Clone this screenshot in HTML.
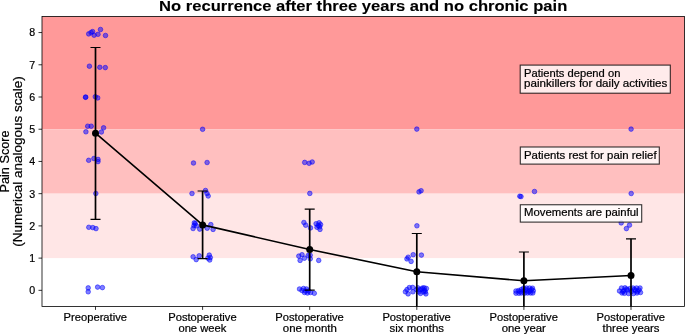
<!DOCTYPE html><html><head><meta charset="utf-8"><style>html,body{margin:0;padding:0;background:#fff;overflow:hidden;}svg{display:block;will-change:transform;}text{font-family:"Liberation Sans",sans-serif;fill:#000;}</style></head><body>
<svg width="685" height="334" viewBox="0 0 685 334">
<rect x="0" y="0" width="685" height="334" fill="#fff"/>
<rect x="42.0" y="16.4" width="642.40" height="112.83" fill="rgb(255,153,153)"/>
<rect x="42.0" y="129.23" width="642.40" height="64.44" fill="rgb(255,191,191)"/>
<rect x="42.0" y="193.67" width="642.40" height="64.44" fill="rgb(255,230,230)"/>
<g fill="rgb(0,0,255)" fill-opacity="0.5" stroke="rgb(0,0,255)" stroke-opacity="0.5" stroke-width="1.0">
<circle cx="88.7" cy="33.9" r="2.3"/>
<circle cx="91.1" cy="32.5" r="2.3"/>
<circle cx="92.6" cy="31.6" r="2.3"/>
<circle cx="94.1" cy="35.2" r="2.3"/>
<circle cx="98.0" cy="34.3" r="2.3"/>
<circle cx="100.5" cy="29.5" r="2.3"/>
<circle cx="105.5" cy="35.5" r="2.3"/>
<circle cx="89.4" cy="66.2" r="2.3"/>
<circle cx="99.8" cy="67.3" r="2.3"/>
<circle cx="105.3" cy="67.6" r="2.3"/>
<circle cx="85.5" cy="97.3" r="2.3"/>
<circle cx="85.7" cy="97.1" r="2.3"/>
<circle cx="95.3" cy="96.7" r="2.3"/>
<circle cx="97.7" cy="97.9" r="2.3"/>
<circle cx="87.7" cy="126.2" r="2.3"/>
<circle cx="91.2" cy="126.2" r="2.3"/>
<circle cx="85.9" cy="131.8" r="2.3"/>
<circle cx="103.6" cy="127.8" r="2.3"/>
<circle cx="101.4" cy="132.0" r="2.3"/>
<circle cx="88.7" cy="160.3" r="2.3"/>
<circle cx="93.9" cy="158.5" r="2.3"/>
<circle cx="98.0" cy="159.4" r="2.3"/>
<circle cx="98.0" cy="161.6" r="2.3"/>
<circle cx="95.8" cy="193.5" r="2.3"/>
<circle cx="88.8" cy="227.3" r="2.3"/>
<circle cx="92.8" cy="227.6" r="2.3"/>
<circle cx="96.0" cy="228.6" r="2.3"/>
<circle cx="88.2" cy="287.9" r="2.3"/>
<circle cx="88.2" cy="291.8" r="2.3"/>
<circle cx="97.6" cy="287.1" r="2.3"/>
<circle cx="102.4" cy="287.6" r="2.3"/>
<circle cx="202.6" cy="129.3" r="2.3"/>
<circle cx="193.5" cy="163.0" r="2.3"/>
<circle cx="207.1" cy="162.5" r="2.3"/>
<circle cx="192.0" cy="193.5" r="2.3"/>
<circle cx="205.5" cy="190.5" r="2.3"/>
<circle cx="207.0" cy="193.5" r="2.3"/>
<circle cx="208.2" cy="196.0" r="2.3"/>
<circle cx="194.3" cy="222.8" r="2.3"/>
<circle cx="193.1" cy="228.5" r="2.3"/>
<circle cx="196.4" cy="225.8" r="2.3"/>
<circle cx="194.0" cy="225.6" r="2.3"/>
<circle cx="195.2" cy="223.6" r="2.3"/>
<circle cx="199.7" cy="229.1" r="2.3"/>
<circle cx="207.2" cy="228.2" r="2.3"/>
<circle cx="210.8" cy="224.6" r="2.3"/>
<circle cx="213.1" cy="229.4" r="2.3"/>
<circle cx="193.1" cy="256.8" r="2.3"/>
<circle cx="196.2" cy="259.6" r="2.3"/>
<circle cx="199.2" cy="255.8" r="2.3"/>
<circle cx="209.3" cy="255.1" r="2.3"/>
<circle cx="209.7" cy="260.0" r="2.3"/>
<circle cx="207.8" cy="258.1" r="2.3"/>
<circle cx="210.3" cy="257.6" r="2.3"/>
<circle cx="304.7" cy="162.4" r="2.3"/>
<circle cx="309.1" cy="163.3" r="2.3"/>
<circle cx="312.2" cy="162.0" r="2.3"/>
<circle cx="309.8" cy="193.4" r="2.3"/>
<circle cx="303.9" cy="222.5" r="2.3"/>
<circle cx="305.7" cy="225.2" r="2.3"/>
<circle cx="310.5" cy="227.9" r="2.3"/>
<circle cx="316.1" cy="223.7" r="2.3"/>
<circle cx="319.1" cy="222.8" r="2.3"/>
<circle cx="320.6" cy="224.6" r="2.3"/>
<circle cx="317.0" cy="227.3" r="2.3"/>
<circle cx="320.0" cy="229.4" r="2.3"/>
<circle cx="318.2" cy="225.4" r="2.3"/>
<circle cx="319.6" cy="226.8" r="2.3"/>
<circle cx="298.8" cy="256.1" r="2.3"/>
<circle cx="302.0" cy="254.7" r="2.3"/>
<circle cx="300.1" cy="260.4" r="2.3"/>
<circle cx="304.4" cy="258.2" r="2.3"/>
<circle cx="308.2" cy="255.5" r="2.3"/>
<circle cx="310.2" cy="255.2" r="2.3"/>
<circle cx="310.3" cy="258.8" r="2.3"/>
<circle cx="318.7" cy="260.4" r="2.3"/>
<circle cx="299.5" cy="289.0" r="2.3"/>
<circle cx="302.0" cy="290.5" r="2.3"/>
<circle cx="303.5" cy="288.5" r="2.3"/>
<circle cx="305.5" cy="291.0" r="2.3"/>
<circle cx="306.5" cy="289.0" r="2.3"/>
<circle cx="304.5" cy="292.5" r="2.3"/>
<circle cx="307.5" cy="293.0" r="2.3"/>
<circle cx="308.5" cy="291.0" r="2.3"/>
<circle cx="310.5" cy="292.5" r="2.3"/>
<circle cx="314.3" cy="293.3" r="2.3"/>
<circle cx="416.8" cy="129.1" r="2.3"/>
<circle cx="419.0" cy="191.9" r="2.3"/>
<circle cx="421.1" cy="190.7" r="2.3"/>
<circle cx="416.9" cy="225.8" r="2.3"/>
<circle cx="406.9" cy="258.9" r="2.3"/>
<circle cx="408.2" cy="257.2" r="2.3"/>
<circle cx="411.1" cy="261.4" r="2.3"/>
<circle cx="413.2" cy="254.7" r="2.3"/>
<circle cx="421.4" cy="255.1" r="2.3"/>
<circle cx="405.4" cy="291.8" r="2.3"/>
<circle cx="408.1" cy="293.9" r="2.3"/>
<circle cx="409.3" cy="287.6" r="2.3"/>
<circle cx="407.0" cy="289.6" r="2.3"/>
<circle cx="412.6" cy="287.4" r="2.3"/>
<circle cx="412.9" cy="291.8" r="2.3"/>
<circle cx="416.7" cy="289.6" r="2.3"/>
<circle cx="417.8" cy="287.8" r="2.3"/>
<circle cx="418.9" cy="291.8" r="2.3"/>
<circle cx="420.5" cy="293.4" r="2.3"/>
<circle cx="421.6" cy="289.1" r="2.3"/>
<circle cx="424.2" cy="287.8" r="2.3"/>
<circle cx="425.3" cy="291.8" r="2.3"/>
<circle cx="425.9" cy="293.9" r="2.3"/>
<circle cx="426.4" cy="288.5" r="2.3"/>
<circle cx="422.5" cy="288.0" r="2.3"/>
<circle cx="423.5" cy="292.0" r="2.3"/>
<circle cx="419.8" cy="289.8" r="2.3"/>
<circle cx="424.5" cy="290.2" r="2.3"/>
<circle cx="519.8" cy="196.2" r="2.3"/>
<circle cx="521.0" cy="196.6" r="2.3"/>
<circle cx="534.5" cy="191.5" r="2.3"/>
<circle cx="515.9" cy="291.0" r="2.3"/>
<circle cx="516.0" cy="293.2" r="2.3"/>
<circle cx="518.5" cy="290.6" r="2.3"/>
<circle cx="519.0" cy="293.3" r="2.3"/>
<circle cx="521.2" cy="289.6" r="2.3"/>
<circle cx="521.5" cy="293.0" r="2.3"/>
<circle cx="523.5" cy="288.2" r="2.3"/>
<circle cx="524.0" cy="291.0" r="2.3"/>
<circle cx="524.5" cy="293.2" r="2.3"/>
<circle cx="526.5" cy="288.0" r="2.3"/>
<circle cx="527.0" cy="290.8" r="2.3"/>
<circle cx="527.5" cy="293.0" r="2.3"/>
<circle cx="529.5" cy="288.0" r="2.3"/>
<circle cx="530.0" cy="290.5" r="2.3"/>
<circle cx="530.5" cy="293.0" r="2.3"/>
<circle cx="532.5" cy="288.2" r="2.3"/>
<circle cx="533.3" cy="290.8" r="2.3"/>
<circle cx="532.8" cy="293.0" r="2.3"/>
<circle cx="525.5" cy="289.5" r="2.3"/>
<circle cx="529.0" cy="291.8" r="2.3"/>
<circle cx="520.0" cy="291.5" r="2.3"/>
<circle cx="531.5" cy="289.5" r="2.3"/>
<circle cx="631.1" cy="129.1" r="2.3"/>
<circle cx="631.2" cy="193.5" r="2.3"/>
<circle cx="621.2" cy="222.9" r="2.3"/>
<circle cx="629.5" cy="225.1" r="2.3"/>
<circle cx="626.4" cy="228.6" r="2.3"/>
<circle cx="619.5" cy="291.0" r="2.3"/>
<circle cx="621.5" cy="288.0" r="2.3"/>
<circle cx="622.0" cy="293.0" r="2.3"/>
<circle cx="624.0" cy="290.5" r="2.3"/>
<circle cx="625.0" cy="287.8" r="2.3"/>
<circle cx="624.5" cy="293.3" r="2.3"/>
<circle cx="627.5" cy="290.0" r="2.3"/>
<circle cx="628.5" cy="293.5" r="2.3"/>
<circle cx="630.0" cy="288.5" r="2.3"/>
<circle cx="631.5" cy="291.5" r="2.3"/>
<circle cx="633.0" cy="288.0" r="2.3"/>
<circle cx="633.5" cy="293.5" r="2.3"/>
<circle cx="635.5" cy="290.5" r="2.3"/>
<circle cx="636.5" cy="288.0" r="2.3"/>
<circle cx="637.0" cy="293.0" r="2.3"/>
<circle cx="639.0" cy="290.0" r="2.3"/>
<circle cx="640.0" cy="288.0" r="2.3"/>
<circle cx="640.5" cy="292.5" r="2.3"/>
<circle cx="623.0" cy="291.5" r="2.3"/>
<circle cx="634.5" cy="289.5" r="2.3"/>
<circle cx="637.5" cy="291.5" r="2.3"/>
<circle cx="626.5" cy="289.0" r="2.3"/>
</g>
<defs><clipPath id="ax"><rect x="42.0" y="16.40" width="642.40" height="290.00"/></clipPath></defs>
<g clip-path="url(#ax)" stroke="#000" stroke-width="1.7" fill="none">
<line x1="95.50" y1="47.5" x2="95.50" y2="219.30"/>
<line x1="90.50" y1="47.5" x2="100.50" y2="47.5" stroke-width="1.2"/>
<line x1="90.50" y1="219.30" x2="100.50" y2="219.30" stroke-width="1.2"/>
<line x1="202.60" y1="191.0" x2="202.60" y2="258.70"/>
<line x1="197.60" y1="191.0" x2="207.60" y2="191.0" stroke-width="1.2"/>
<line x1="197.60" y1="258.70" x2="207.60" y2="258.70" stroke-width="1.2"/>
<line x1="309.70" y1="209.1" x2="309.70" y2="290.20"/>
<line x1="304.70" y1="209.1" x2="314.70" y2="209.1" stroke-width="1.2"/>
<line x1="304.70" y1="290.20" x2="314.70" y2="290.20" stroke-width="1.2"/>
<line x1="416.80" y1="233.5" x2="416.80" y2="309.90"/>
<line x1="411.80" y1="233.5" x2="421.80" y2="233.5" stroke-width="1.2"/>
<line x1="411.80" y1="309.90" x2="421.80" y2="309.90" stroke-width="1.2"/>
<line x1="523.90" y1="252.0" x2="523.90" y2="309.60"/>
<line x1="518.90" y1="252.0" x2="528.90" y2="252.0" stroke-width="1.2"/>
<line x1="518.90" y1="309.60" x2="528.90" y2="309.60" stroke-width="1.2"/>
<line x1="631.00" y1="238.8" x2="631.00" y2="312.20"/>
<line x1="626.00" y1="238.8" x2="636.00" y2="238.8" stroke-width="1.2"/>
<line x1="626.00" y1="312.20" x2="636.00" y2="312.20" stroke-width="1.2"/>
<polyline points="95.50,133.2 202.60,224.9 309.70,249.5 416.80,271.7 523.90,280.8 631.00,275.5" stroke-width="1.6" stroke-linejoin="round"/>
</g>
<circle cx="95.50" cy="133.2" r="3.5" fill="#000"/>
<circle cx="202.60" cy="224.9" r="3.5" fill="#000"/>
<circle cx="309.70" cy="249.5" r="3.5" fill="#000"/>
<circle cx="416.80" cy="271.7" r="3.5" fill="#000"/>
<circle cx="523.90" cy="280.8" r="3.5" fill="#000"/>
<circle cx="631.00" cy="275.5" r="3.5" fill="#000"/>
<rect x="520.2" y="65.1" width="150.10" height="28.10" fill="#fff" fill-opacity="0.8" stroke="#000" stroke-opacity="0.8" stroke-width="1.1"/>
<rect x="520.3" y="147.0" width="139.00" height="17.10" fill="#fff" fill-opacity="0.8" stroke="#000" stroke-opacity="0.8" stroke-width="1.1"/>
<rect x="520.3" y="204.75" width="121.40" height="17.35" fill="#fff" fill-opacity="0.8" stroke="#000" stroke-opacity="0.8" stroke-width="1.1"/>
<text x="524.01" y="76.50" font-size="10.2" font-weight="normal" textLength="96.36" lengthAdjust="spacingAndGlyphs" stroke="#000" stroke-width="0.2">Patients depend on</text>
<text x="524.05" y="87.20" font-size="10.2" font-weight="normal" textLength="143.24" lengthAdjust="spacingAndGlyphs" stroke="#000" stroke-width="0.2">painkillers for daily activities</text>
<text x="523.99" y="158.60" font-size="10.2" font-weight="normal" textLength="132.58" lengthAdjust="spacingAndGlyphs" stroke="#000" stroke-width="0.2">Patients rest for pain relief</text>
<text x="523.99" y="216.40" font-size="10.2" font-weight="normal" textLength="114.66" lengthAdjust="spacingAndGlyphs" stroke="#000" stroke-width="0.2">Movements are painful</text>
<rect x="42.0" y="16.40" width="642.40" height="290.00" fill="none" stroke="#000" stroke-width="0.8"/>
<line x1="38.5" y1="290.34" x2="42.0" y2="290.34" stroke="#000" stroke-width="0.8"/>
<text x="29.16" y="294.24" font-size="10" stroke="#000" stroke-width="0.2" textLength="5.91" lengthAdjust="spacingAndGlyphs">0</text>
<line x1="38.5" y1="258.12" x2="42.0" y2="258.12" stroke="#000" stroke-width="0.8"/>
<text x="29.16" y="262.02" font-size="10" stroke="#000" stroke-width="0.2" textLength="5.91" lengthAdjust="spacingAndGlyphs">1</text>
<line x1="38.5" y1="225.90" x2="42.0" y2="225.90" stroke="#000" stroke-width="0.8"/>
<text x="29.16" y="229.80" font-size="10" stroke="#000" stroke-width="0.2" textLength="5.91" lengthAdjust="spacingAndGlyphs">2</text>
<line x1="38.5" y1="193.67" x2="42.0" y2="193.67" stroke="#000" stroke-width="0.8"/>
<text x="29.16" y="197.57" font-size="10" stroke="#000" stroke-width="0.2" textLength="5.91" lengthAdjust="spacingAndGlyphs">3</text>
<line x1="38.5" y1="161.45" x2="42.0" y2="161.45" stroke="#000" stroke-width="0.8"/>
<text x="29.16" y="165.35" font-size="10" stroke="#000" stroke-width="0.2" textLength="5.91" lengthAdjust="spacingAndGlyphs">4</text>
<line x1="38.5" y1="129.23" x2="42.0" y2="129.23" stroke="#000" stroke-width="0.8"/>
<text x="29.16" y="133.13" font-size="10" stroke="#000" stroke-width="0.2" textLength="5.91" lengthAdjust="spacingAndGlyphs">5</text>
<line x1="38.5" y1="97.01" x2="42.0" y2="97.01" stroke="#000" stroke-width="0.8"/>
<text x="29.16" y="100.91" font-size="10" stroke="#000" stroke-width="0.2" textLength="5.91" lengthAdjust="spacingAndGlyphs">6</text>
<line x1="38.5" y1="64.79" x2="42.0" y2="64.79" stroke="#000" stroke-width="0.8"/>
<text x="29.16" y="68.69" font-size="10" stroke="#000" stroke-width="0.2" textLength="5.91" lengthAdjust="spacingAndGlyphs">7</text>
<line x1="38.5" y1="32.56" x2="42.0" y2="32.56" stroke="#000" stroke-width="0.8"/>
<text x="29.16" y="36.46" font-size="10" stroke="#000" stroke-width="0.2" textLength="5.91" lengthAdjust="spacingAndGlyphs">8</text>
<line x1="95.50" y1="306.40" x2="95.50" y2="309.90" stroke="#000" stroke-width="0.8"/>
<text x="63.63" y="320.70" font-size="10.2" font-weight="normal" textLength="63.35" lengthAdjust="spacingAndGlyphs" stroke="#000" stroke-width="0.2">Preoperative</text>
<line x1="202.60" y1="306.40" x2="202.60" y2="309.90" stroke="#000" stroke-width="0.8"/>
<text x="168.21" y="320.70" font-size="10.2" font-weight="normal" textLength="68.40" lengthAdjust="spacingAndGlyphs" stroke="#000" stroke-width="0.2">Postoperative</text>
<text x="178.43" y="331.70" font-size="10.2" font-weight="normal" textLength="47.91" lengthAdjust="spacingAndGlyphs" stroke="#000" stroke-width="0.2">one week</text>
<line x1="309.70" y1="306.40" x2="309.70" y2="309.90" stroke="#000" stroke-width="0.8"/>
<text x="275.31" y="320.70" font-size="10.2" font-weight="normal" textLength="68.40" lengthAdjust="spacingAndGlyphs" stroke="#000" stroke-width="0.2">Postoperative</text>
<text x="282.82" y="331.70" font-size="10.2" font-weight="normal" textLength="54.06" lengthAdjust="spacingAndGlyphs" stroke="#000" stroke-width="0.2">one month</text>
<line x1="416.80" y1="306.40" x2="416.80" y2="309.90" stroke="#000" stroke-width="0.8"/>
<text x="382.41" y="320.70" font-size="10.2" font-weight="normal" textLength="68.40" lengthAdjust="spacingAndGlyphs" stroke="#000" stroke-width="0.2">Postoperative</text>
<text x="389.61" y="331.70" font-size="10.2" font-weight="normal" textLength="54.43" lengthAdjust="spacingAndGlyphs" stroke="#000" stroke-width="0.2">six months</text>
<line x1="523.90" y1="306.40" x2="523.90" y2="309.90" stroke="#000" stroke-width="0.8"/>
<text x="489.51" y="320.70" font-size="10.2" font-weight="normal" textLength="68.40" lengthAdjust="spacingAndGlyphs" stroke="#000" stroke-width="0.2">Postoperative</text>
<text x="501.67" y="331.70" font-size="10.2" font-weight="normal" textLength="44.19" lengthAdjust="spacingAndGlyphs" stroke="#000" stroke-width="0.2">one year</text>
<line x1="631.00" y1="306.40" x2="631.00" y2="309.90" stroke="#000" stroke-width="0.8"/>
<text x="596.61" y="320.70" font-size="10.2" font-weight="normal" textLength="68.40" lengthAdjust="spacingAndGlyphs" stroke="#000" stroke-width="0.2">Postoperative</text>
<text x="602.63" y="331.70" font-size="10.2" font-weight="normal" textLength="56.94" lengthAdjust="spacingAndGlyphs" stroke="#000" stroke-width="0.2">three years</text>
<text transform="translate(8.60,0) rotate(-90)" x="-192.52" y="0" font-size="12.5" font-weight="normal" textLength="62.15" lengthAdjust="spacingAndGlyphs" stroke="#000" stroke-width="0.2">Pain Score</text>
<text transform="translate(22.20,0) rotate(-90)" x="-246.75" y="0" font-size="12.5" font-weight="normal" textLength="170.55" lengthAdjust="spacingAndGlyphs" stroke="#000" stroke-width="0.2">(Numerical analogous scale)</text>
<text x="159.02" y="10.60" font-size="14.6" font-weight="bold" textLength="408.27" lengthAdjust="spacingAndGlyphs" stroke="#000" stroke-width="0.1">No recurrence after three years and no chronic pain</text>
</svg></body></html>
